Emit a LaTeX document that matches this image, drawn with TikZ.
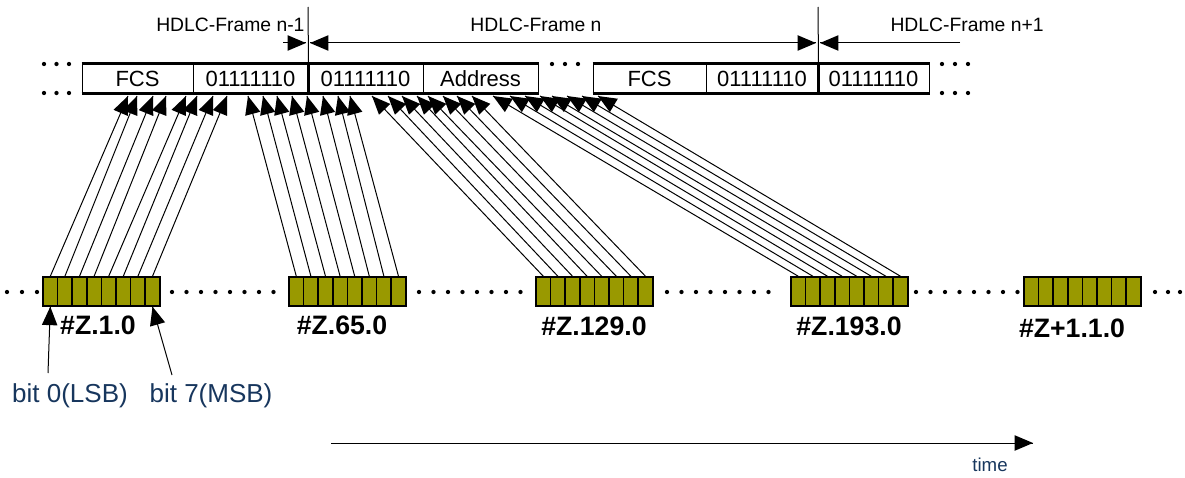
\documentclass[tikz,border=0pt]{standalone}
\usepackage{fontspec}
\setmainfont{Liberation Sans}
\usepackage{tikz}
\usetikzlibrary{arrows}
\usetikzlibrary{decorations.markings}
\usetikzlibrary{positioning}
\definecolor{olivebit}{RGB}{153,153,0}
\definecolor{navytxt}{RGB}{23,54,93}
\tikzset{arr/.style = {decoration={markings,
                                   mark=at position 1 with {\arrow[scale=1.8]{triangle 45}}},
                       postaction={decorate}}}
\tikzset{arrs/.style = {decoration={markings,
                                    mark=at position 0 with {\arrowreversed[scale=1.8]{triangle 45}},
                                    mark=at position 1 with {\arrow[scale=1.8]{triangle 45}}},
                        postaction={decorate}}}
\tikzset{cell/.style = {draw, inner sep = 0, minimum height = 21.75pt,
                        minimum width = #1*0.75pt, font = \fontsize{16.5}{18}\selectfont}}
\tikzset{bit/.style = {draw, fill = olivebit, line width = 1.1pt, inner sep = 0,
                       minimum width = 10.95pt, minimum height = 21.75pt}}
\tikzset{thickline/.style = {line width = 2.25pt}}
\tikzset{frm/.style = {inner sep = 0, font = \fontsize{14.5}{16}\selectfont}}
\tikzset{zlbl/.style = {inner sep = 0, font = \bfseries\fontsize{20}{22}\selectfont}}
\tikzset{bitlbl/.style = {inner sep = 0, text = navytxt, font = \fontsize{19.5}{21}\selectfont}}

\begin{document}
\begin{tikzpicture}[x = 0.75pt, y = -0.75pt, line width = 0.75pt]
  \useasboundingbox (0, 0) rectangle (1185, 478);
  % frames
  \node [cell = 111] (fcsA)  at (137.5, 79) {FCS};
  \node [cell = 115] (flagA) at (250.5, 79) {01111110};
  \node [cell = 115] (flagB) at (365.5, 79) {01111110};
  \node [cell = 115] (addr)  at (480.5, 79) {Address};
  \node [cell = 113] (fcsB)  at (649.5, 79) {FCS};
  \node [cell = 112] (flagC) at (762, 79) {01111110};
  \node [cell = 111] (flagD) at (873.5, 79) {01111110};
  \draw [thickline] (fcsA.north west) -- (addr.north east);
  \draw [thickline] (fcsA.south west) -- (addr.south east);
  \draw [thickline] (fcsB.north west) -- (flagD.north east);
  \draw [thickline] (fcsB.south west) -- (flagD.south east);
  \draw [thickline] (flagA.north east) -- (flagA.south east);
  \draw [thickline] (flagC.north east) -- (flagC.south east);
  \coordinate (bnd1) at (308, 7);
  \coordinate (bnd2) at (818, 7);
  \draw (bnd1) -- (flagA.north east);
  \draw (bnd2) -- (flagC.north east);
  \coordinate (d0) at (283, 43);
  \coordinate (d1) at (306, 43);
  \coordinate (d2) at (310, 43);
  \coordinate (d3) at (816, 43);
  \coordinate (d4) at (820, 43);
  \coordinate (d5) at (960, 43);
  \draw [arr] (d0) -- (d1);
  \draw [arrs] (d2) -- (d3);
  \draw [arr] (d5) -- (d4);
  \node [frm, anchor = east] (frmA) at (305, 25) {HDLC-Frame n-1};
  \node [frm] (frmB) at (536, 25) {HDLC-Frame n};
  \node [frm, anchor = west] (frmC) at (890, 25) {HDLC-Frame n+1};
  \foreach \x in {44, 56.5, 69, 942, 955, 968} {
    \fill (\x, 64) circle [radius = 1.6pt];
    \fill (\x, 93) circle [radius = 1.6pt];
  }
  \foreach \x in {552, 565, 578}
    \fill (\x, 64) circle [radius = 1.6pt];
  % bytes
  \foreach \b/\s in {1/43, 2/289, 3/536, 4/791, 5/1024}
    \foreach \i in {0,...,7}
      \node [bit] (z\b-\i) at ({\s + 14.6*\i + 7.3}, 291.5) {};
  \foreach \x in {7, 22, 37, 1155, 1168, 1180}
    \fill (\x, 292) circle [radius = 1.6pt];
  \foreach \xa in {172, 419, 667, 916}
    \foreach \k in {0,...,7}
      \fill ({\xa + 14.5*\k}, 292) circle [radius = 1.6pt];
  \node [zlbl] (lblA) at (98, 325) {\#Z.1.0};
  \node [zlbl] (lblB) at (342, 325) {\#Z.65.0};
  \node [zlbl] (lblC) at (594, 326) {\#Z.129.0};
  \node [zlbl] (lblD) at (849, 326) {\#Z.193.0};
  \node [zlbl] (lblE) at (1072, 328) {\#Z+1.1.0};
  % bits to frame
  \foreach \x [count = \i from 0] in {128, 137, 153, 166, 186, 197, 213, 227} {
    \coordinate (ta-\i) at (\x, 96);
    \draw [arr] (z1-\i.north) -- (ta-\i);
  }
  \foreach \x [count = \i from 0] in {248, 263, 277, 292, 307, 323, 338, 350} {
    \coordinate (tb-\i) at (\x, 96);
    \draw [arr] (z2-\i.north) -- (tb-\i);
  }
  \foreach \x [count = \i from 0] in {372, 388, 402, 417, 428, 443, 457, 472} {
    \coordinate (tc-\i) at (\x, 96);
    \draw [arr] (z3-\i.north) -- (tc-\i);
  }
  \foreach \x [count = \i from 0] in {493, 510, 525, 540, 552, 567, 582, 598} {
    \coordinate (td-\i) at (\x, 96);
    \draw [arr] (z4-\i.north) -- (td-\i);
  }
  % LSB / MSB
  \node [bitlbl] (lsb) at (70, 396) {bit 0(LSB)};
  \node [bitlbl] (msb) at (211, 396) {bit 7(MSB)};
  \coordinate (lsbA) at (48, 373);
  \coordinate (msbA) at (172, 375);
  \draw [arr] (lsbA) -- (z1-0.south);
  \draw [arr] (msbA) -- (z1-7.south);
  % time
  \coordinate (tm0) at (331, 443);
  \coordinate (tm1) at (1033, 443);
  \draw [arr] (tm0) -- (tm1);
  \node [inner sep = 0, text = navytxt, font = \fontsize{14}{16}\selectfont] (time) at (990, 465) {time};
\end{tikzpicture}
\end{document}
